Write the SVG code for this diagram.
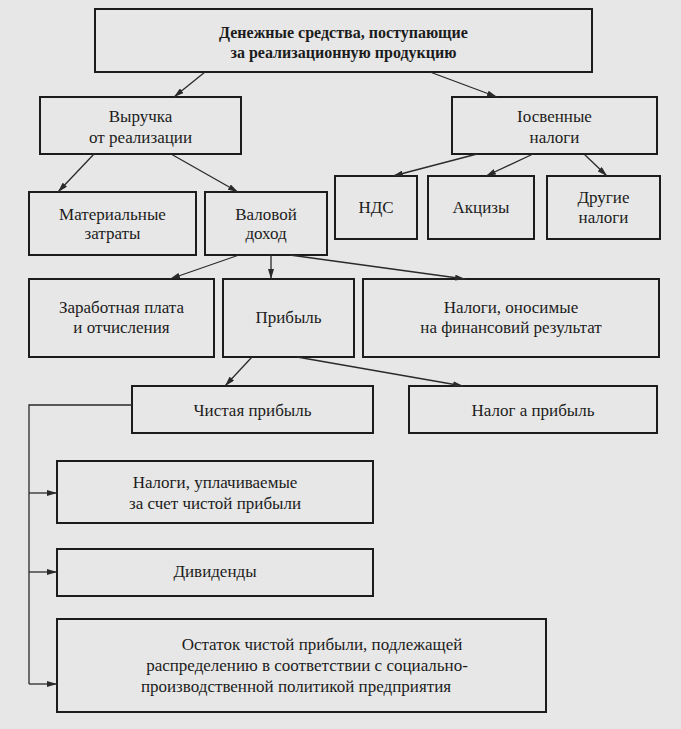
<svg xmlns="http://www.w3.org/2000/svg" width="681" height="729" viewBox="0 0 681 729">
<defs>
<style>
.bg{fill:#e7e7e7}
.box{fill:none;stroke:#1c1c1c;stroke-width:2}
.t{font-size:17px;fill:#1c1c1c;text-anchor:middle}
.tb{font-size:16px;font-weight:bold;fill:#1c1c1c;text-anchor:middle}
.c{fill:none;stroke:#2a2a2a;stroke-width:1.3}
.a{marker-end:url(#arr)}
</style>
<marker id="arr" viewBox="0 0 10 6" refX="10" refY="3" markerWidth="10" markerHeight="6" markerUnits="userSpaceOnUse" orient="auto">
<path d="M0,0 L10,3 L0,6 Z" fill="#2a2a2a"/>
</marker>
</defs>
<rect class="bg" x="0" y="0" width="681" height="729"/>
<g font-family="Liberation Serif, DejaVu Serif, serif">
<g id="n-top"><rect class="box" x="95" y="9" width="497" height="63"/>
<text class="tb" x="343.5" y="38">Денежные средства, поступающие</text>
<text class="tb" x="343.5" y="58">за реализационную продукцию</text></g>

<g id="n-vyruchka"><rect class="box" x="40" y="97" width="201" height="57"/>
<text class="t" x="140.5" y="122">Выручка</text>
<text class="t" x="140.5" y="143">от реализации</text></g>

<g id="n-kosv"><rect class="box" x="452" y="97" width="205" height="57"/>
<text class="t" x="554.5" y="122">Iосвенные</text>
<text class="t" x="554.5" y="143">налоги</text></g>

<g id="n-mat"><rect class="box" x="29" y="192" width="167" height="63"/>
<text class="t" x="112.5" y="220">Материальные</text>
<text class="t" x="112.5" y="239">затраты</text></g>

<g id="n-val"><rect class="box" x="205" y="192" width="122" height="63"/>
<text class="t" x="266" y="220">Валовой</text>
<text class="t" x="266" y="239">доход</text></g>

<g id="n-nds"><rect class="box" x="335" y="176" width="82" height="63"/>
<text class="t" x="376" y="213">НДС</text></g>

<g id="n-akc"><rect class="box" x="428" y="176" width="106" height="63"/>
<text class="t" x="481" y="213">Акцизы</text></g>

<g id="n-dr"><rect class="box" x="547" y="176" width="113" height="63"/>
<text class="t" x="603.5" y="203">Другие</text>
<text class="t" x="603.5" y="223">налоги</text></g>

<g id="n-zp"><rect class="box" x="29" y="279" width="185" height="78"/>
<text class="t" x="121.5" y="313">Заработная плата</text>
<text class="t" x="121.5" y="333">и отчисления</text></g>

<g id="n-prib"><rect class="box" x="223" y="279" width="131" height="78"/>
<text class="t" x="288.5" y="323">Прибыль</text></g>

<g id="n-nfr"><rect class="box" x="363" y="279" width="296" height="78"/>
<text class="t" x="511" y="313">Налоги, оносимые</text>
<text class="t" x="511" y="333">на финансовий результат</text></g>

<g id="n-chist"><rect class="box" x="132" y="386" width="241" height="47"/>
<text class="t" x="252.5" y="416">Чистая прибыль</text></g>

<g id="n-nnp"><rect class="box" x="409" y="386" width="248" height="47"/>
<text class="t" x="533" y="416">Налог а прибыль</text></g>

<g id="n-nup"><rect class="box" x="57" y="461" width="316" height="62"/>
<text class="t" x="215" y="488">Налоги, уплачиваемые</text>
<text class="t" x="215" y="509">за счет чистой прибыли</text></g>

<g id="n-div"><rect class="box" x="57" y="549" width="316" height="47"/>
<text class="t" x="215" y="577">Дивиденды</text></g>

<g id="n-ost"><rect class="box" x="57" y="619" width="489" height="93"/>
<text class="t" x="322" y="650">Остаток чистой прибыли, подлежащей</text>
<text class="t" x="307" y="671">распределению в соответствии с социально-</text>
<text class="t" x="296" y="692">производственной политикой предприятия</text></g>
</g>
<g id="connectors">
<line class="c a" x1="205" y1="72" x2="174" y2="97"/>
<line class="c a" x1="430" y1="72" x2="497" y2="97"/>
<line class="c a" x1="94" y1="154" x2="58" y2="192"/>
<line class="c a" x1="171" y1="154" x2="238" y2="192"/>
<line class="c a" x1="477" y1="154" x2="393" y2="176"/>
<line class="c a" x1="533" y1="154" x2="486" y2="176"/>
<line class="c a" x1="584" y1="154" x2="607" y2="176"/>
<line class="c a" x1="239" y1="255" x2="170" y2="279"/>
<line class="c a" x1="271" y1="255" x2="271" y2="279"/>
<line class="c a" x1="290" y1="255" x2="465" y2="279"/>
<line class="c a" x1="252" y1="357" x2="225" y2="386"/>
<line class="c a" x1="297" y1="357" x2="463" y2="386"/>
<polyline class="c" points="132,405 29,405 29,684"/>
<line class="c a" x1="29" y1="493" x2="57" y2="493"/>
<line class="c a" x1="29" y1="572" x2="57" y2="572"/>
<line class="c a" x1="29" y1="684" x2="57" y2="684"/>
</g>
</svg>
